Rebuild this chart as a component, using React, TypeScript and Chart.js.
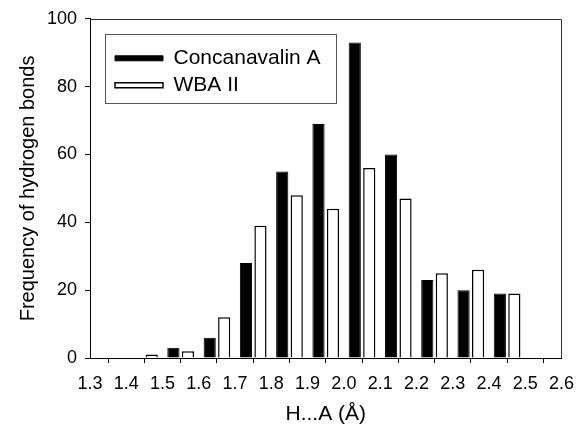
import { useEffect, useRef } from "react";
import { Chart, registerables } from "chart.js";

Chart.register(...registerables);

// ---- data ----
const binStarts = [1.3, 1.4, 1.5, 1.6, 1.7, 1.8, 1.9, 2.0, 2.1, 2.2, 2.3, 2.4, 2.5];
const binWidth = 0.1;
const concanavalinA = [0, 0, 3, 6, 28, 55, 69, 93, 60, 23, 20, 19, 0];
const wbaII = [0, 1, 2, 12, 39, 48, 44, 56, 47, 25, 26, 19, 0];
const seriesLabels = ["Concanavalin A", "WBA II"];
const xTitle = "H...A (\u00C5)";
const yTitle = "Frequency of hydrogen bonds";
const xMin = 1.3;
const xMax = 2.6;
const yMin = 0;
const yMax = 100;
const yStep = 20;

const FONT = "'Liberation Sans', Arial, Helvetica, sans-serif";

const framePlugin = {
  id: "frame",
  beforeDraw(chart: any) {
    const leg = chart.legend;
    const ca = chart.chartArea;
    if (leg && ca) {
      leg.left = ca.left + 19;
      leg.top = ca.top + 23;
      leg.right = leg.left + leg.width;
      leg.bottom = leg.top + leg.height;
    }
  },
  afterDraw(chart: any) {
    const { ctx, chartArea: ca } = chart;
    ctx.save();
    ctx.strokeStyle = "#333";
    ctx.lineWidth = 1;
    ctx.beginPath();
    const t = Math.round(ca.top) + 0.5;
    const r = Math.round(ca.right) + 0.5;
    ctx.moveTo(ca.left, t);
    ctx.lineTo(r, t);
    ctx.lineTo(r, ca.bottom);
    ctx.stroke();
    ctx.strokeStyle = "#555";
    ctx.strokeRect(Math.round(ca.left + 15) + 0.5, Math.round(ca.top + 15) + 0.5, 231, 69);
    ctx.restore();
  },
};

export default function App() {
  const ref = useRef<HTMLCanvasElement | null>(null);

  useEffect(() => {
    if (!ref.current) return;
    const centers = binStarts.map((b) => b + binWidth / 2);
    const chart = new Chart(ref.current, {
      type: "bar",
      data: {
        datasets: [
          {
            label: seriesLabels[0],
            data: centers.map((x, i) => ({ x, y: concanavalinA[i] })),
            backgroundColor: "#000",
            borderColor: "#000",
            borderWidth: 1,
            categoryPercentage: 0.8,
            barPercentage: 0.84,
          },
          {
            label: seriesLabels[1],
            data: centers.map((x, i) => ({ x, y: wbaII[i] })),
            backgroundColor: "#fff",
            borderColor: "#000",
            borderWidth: 1.5,
            categoryPercentage: 0.8,
            barPercentage: 0.84,
          },
        ],
      },
      options: {
        responsive: false,
        animation: false,
        layout: { padding: { top: 18, right: 13, left: 0, bottom: 0 } },
        plugins: {
          tooltip: { enabled: false },
          legend: {
            position: "chartArea" as any,
            align: "start",
            labels: {
              font: { family: FONT, size: 21 },
              color: "#000",
              boxWidth: 48,
              boxHeight: 5,
              padding: 6,
            },
          },
        },
        scales: {
          x: {
            type: "linear",
            offset: false,
            min: xMin,
            max: xMax,
            afterFit: (s: any) => {
              s.height = 70;
            },
            grid: {
              display: true,
              drawOnChartArea: false,
              drawTicks: true,
              tickLength: 5,
              color: "#000",
            },
            border: { display: true, color: "#000", width: 1 },
            ticks: {
              stepSize: binWidth,
              autoSkip: false,
              maxRotation: 0,
              padding: 10,
              color: "#000",
              font: { family: FONT, size: 18 },
              callback: (v: any) => Number(v).toFixed(1),
            },
            title: {
              display: true,
              text: xTitle,
              color: "#000",
              font: { family: FONT, size: 21 },
              padding: { top: 0, bottom: 1 },
            },
          },
          y: {
            min: yMin,
            max: yMax,
            afterFit: (s: any) => {
              s.width = 90;
            },
            grid: {
              display: true,
              drawOnChartArea: false,
              drawTicks: true,
              tickLength: 5,
              color: "#000",
            },
            border: { display: true, color: "#000", width: 1 },
            ticks: {
              stepSize: yStep,
              padding: 8,
              color: "#000",
              font: { family: FONT, size: 18 },
            },
            title: {
              display: true,
              text: yTitle,
              color: "#000",
              font: { family: FONT, size: 20 },
              padding: { top: 16, bottom: 0 },
            },
          },
        },
      },
      plugins: [framePlugin],
    });
    return () => chart.destroy();
  }, []);

  return (
    <div style={{ position: "absolute", left: 0, top: 0, width: 584, height: 428, background: "#fff" }}>
      <canvas ref={ref} width={584} height={428} style={{ width: 584, height: 428 }} />
    </div>
  );
}
